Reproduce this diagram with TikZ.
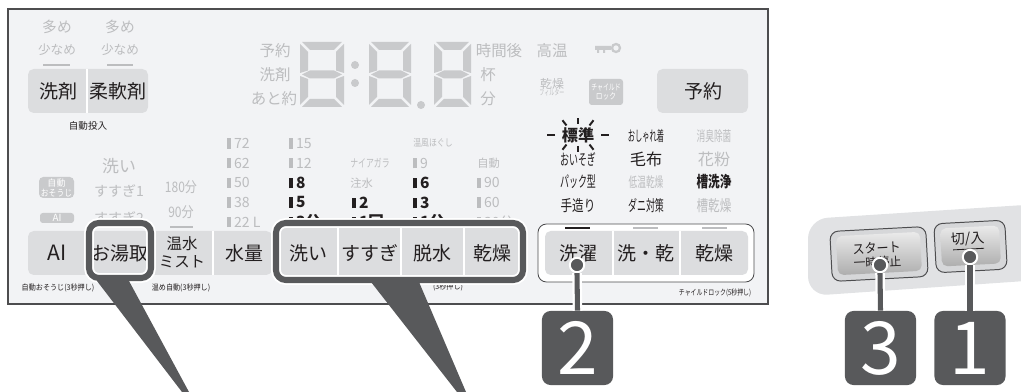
\documentclass[tikz,border=0pt]{standalone}
\usepackage{fontspec}
\setmainfont{Noto Sans CJK JP}
\usepackage{graphicx}
\usetikzlibrary{positioning}

\definecolor{panelbg}{HTML}{F2F3F5}
\definecolor{panelline}{HTML}{4D4D4F}
\definecolor{btngray}{HTML}{DCDDDF}
\definecolor{fainttxt}{HTML}{BCBDBF}
\definecolor{segray}{HTML}{C9CACC}
\definecolor{ink}{HTML}{231F20}
\definecolor{callout}{HTML}{58595B}
\definecolor{sidegray}{HTML}{E1E2E4}
\definecolor{btnouter}{HTML}{D6D7D9}

\newcommand{\fsz}[1]{\fontsize{#1}{#1}\selectfont}
\newcommand{\narrow}[2]{\scalebox{#1}[1]{#2}}
\newcommand{\lvbar}{\rule{2.6pt}{7.4pt}\hspace{2.2pt}}

\tikzset{
  faint/.style={text=fainttxt, inner sep=0pt},
  dark/.style={text=ink, inner sep=0pt},
  btn/.style={text=ink, inner sep=0pt, font=\fsz{13.5}},
  note/.style={text=ink, inner sep=0pt, font=\fsz{5.6}},
  halo/.style={draw=white, line width=7pt, rounded corners=7pt},
  hilite/.style={draw=callout, line width=4.3pt, rounded corners=7pt},
  stem/.style={draw=callout, line width=3.6pt},
  stemhalo/.style={draw=white, line width=6.8pt},
  dot/.style={circle, fill=callout, draw=white, line width=1.4pt, minimum size=0.36cm, inner sep=0pt},
  numbox/.style={fill=callout, rounded corners=6pt, minimum width=1.775cm, minimum height=1.85cm,
    inner sep=0pt, text=white, font=\fsz{52}},
  pics/sevenseg/.style={code={
    \def\W{#1}
    \fill[segray] (2,0) -- ({\W-2},0) -- ({\W-10},8) -- (10,8) -- cycle;
    \fill[segray] (0,2) -- (8,10) -- (8,28.5) -- (0,31) -- cycle;
    \fill[segray] (\W,2) -- (\W,31) -- ({\W-8},28.5) -- ({\W-8},10) -- cycle;
    \fill[segray] (2,32.5) -- (10,28.5) -- ({\W-10},28.5) -- ({\W-2},32.5) -- ({\W-10},36.5) -- (10,36.5) -- cycle;
    \fill[segray] (0,34) -- (8,37) -- (8,55) -- (0,63) -- cycle;
    \fill[segray] (\W,34) -- (\W,63) -- ({\W-8},55) -- ({\W-8},37) -- cycle;
    \fill[segray] (2,65) -- (10,57) -- ({\W-10},57) -- ({\W-2},65) -- cycle;
  }}
}

\begin{document}
\begin{tikzpicture}[x=0.025cm, y=-0.025cm]
  \useasboundingbox (0,0) rectangle (1021,392);

  % panel
  \draw[fill=panelbg, draw=panelline, line width=1.2pt] (8,9) rectangle (768,304);

  % detergent amount
  \node[faint, font=\fsz{10.5}] (more1) at (57,27) {多め};
  \node[faint, font=\fsz{10.5}] (more2) at (120,27) {多め};
  \node[faint, font=\fsz{9}] (less1) at (57,50) {少なめ};
  \node[faint, font=\fsz{9}] (less2) at (120,50) {少なめ};
  \draw[fainttxt, line width=1.8pt] (43,65) -- (70,65) (107,65) -- (133,65);
  \fill[btngray, rounded corners=4pt] (28,69) rectangle (148,113);
  \draw[white, line width=1pt] (87,69) -- (87,113);
  \node[btn] (senzai) at (58,91) {洗剤};
  \node[btn] (junanzai) at (118,91) {柔軟剤};
  \node[note, font=\fsz{6.8}] (jidoutounyu) at (88,126) {自動投入};

  % display
  \node[faint, font=\fsz{11}] (dispyoyaku) at (275,51) {予約};
  \node[faint, font=\fsz{11}] (dispsenzai) at (275,75) {洗剤};
  \node[faint, font=\fsz{11}] (atoyaku) at (274,99) {あと約};
  \pic at (300,42) {sevenseg=44};
  \pic at (369,42) {sevenseg=42};
  \pic at (434,42) {sevenseg=37};
  \fill[segray] (355,65) circle (4) (355,83) circle (4) (421,105) circle (4);
  \node[faint, font=\fsz{11}] (jikango) at (499,51) {時間後};
  \node[faint, font=\fsz{11}] (hai) at (488,75) {杯};
  \node[faint, font=\fsz{11}] (fun) at (488,99) {分};
  \node[faint, font=\fsz{11}] (kouon) at (552,51) {高温};
  % key
  \fill[segray] (595,46) rectangle (611,50) (597,50) rectangle (599,53) (603,50) rectangle (605,53);
  \draw[segray, line width=1.6pt] (616,48) circle (4);
  \node[faint, font=\fsz{8.5}] (kansoufilter) at (552,84) {乾燥};
  \node[faint, font=\fsz{5.5}] (filter) at (552,93) {\narrow{0.65}{フィルター}};
  \fill[segray, rounded corners=2pt] (589,79) rectangle (623,105);
  \node[text=white, font=\fsz{6}, align=center, inner sep=0pt] (childlock) at (606,92)
    {\narrow{0.7}{チャイルド}\\[0.5pt]\narrow{0.8}{ロック}};
  \fill[btngray, rounded corners=4pt] (657,69) rectangle (748,113);
  \node[btn] (yoyaku) at (703,91) {予約};

  % courses
  \node[dark, font=\fsz{11.5}\bfseries] (hyoujun) at (578,135) {標準};
  \foreach \a in {0,60,90,120,180,240,270,300}
    \draw[ink, line width=1.4pt, shift={(578,135)}] (\a:23 and 11) -- (\a:31 and 17);
  \node[dark, font=\fsz{11}] (oisogi) at (578,159) {\narrow{0.58}{おいそぎ}};
  \node[dark, font=\fsz{11}] (pack) at (578,182) {\narrow{0.58}{パック型}};
  \node[dark, font=\fsz{11}] (tezukuri) at (578,206) {\narrow{0.75}{手造り}};
  \node[dark, font=\fsz{10.3}] (oshare) at (646,136) {\narrow{0.5}{おしゃれ着}};
  \node[dark, font=\fsz{11.5}] (moufu) at (646,159) {毛布};
  \node[faint, font=\fsz{10}] (teion) at (646,182) {\narrow{0.62}{低温乾燥}};
  \node[dark, font=\fsz{11}] (dani) at (646,206) {\narrow{0.58}{ダニ対策}};
  \node[faint, font=\fsz{10}] (shoushu) at (714,136) {\narrow{0.62}{消臭除菌}};
  \node[faint, font=\fsz{11.5}] (kafun) at (714,159) {花粉};
  \node[dark, font=\fsz{11}\bfseries] (sousenjou) at (714,182) {\narrow{0.75}{槽洗浄}};
  \node[faint, font=\fsz{11}] (soukansou) at (714,206) {\narrow{0.75}{槽乾燥}};

  % wash / dry group
  \draw[fill=white, draw=panelline, line width=0.6pt, rounded corners=6pt] (538,224) rectangle (754,282);
  \draw[ink, line width=2pt] (565,228) -- (590,228);
  \draw[fainttxt, line width=2pt] (633,228) -- (658,228) (702,228) -- (727,228);
  \fill[btngray, rounded corners=4pt] (545,231) rectangle (748,275);
  \draw[white, line width=1pt] (613,231) -- (613,275) (680,231) -- (680,275);
  \node[btn] (sentaku) at (578,253) {洗濯};
  \node[btn] (senkan) at (646,253) {洗・乾};
  \node[btn] (kansou) at (714,253) {乾燥};
  \node[note] (childnote) at (715,293) {\narrow{0.75}{チャイルドロック(5秒押し)}};

  % left column
  \fill[segray, rounded corners=3pt] (39,177) rectangle (74,198);
  \node[text=white, font=\fsz{6.5}, align=center, inner sep=0pt] (osouji) at (56.5,187.5)
    {自動\\[0.5pt]\narrow{0.85}{おそうじ}};
  \fill[segray, rounded corners=2pt] (40,213) rectangle (74,223);
  \node[text=white, font=\fsz{7}, inner sep=0pt] (aibadge) at (57,218) {AI};
  \node[faint, font=\fsz{12}] (arai) at (119,166) {洗い};
  \node[faint, font=\fsz{10}] (susugi1) at (119,191) {すすぎ1};
  \node[faint, font=\fsz{10}] (susugi2) at (119,218) {すすぎ2};
  \node[faint, font=\fsz{10.3}] (m180) at (181,187) {\narrow{0.83}{180分}};
  \node[faint, font=\fsz{10.3}] (m90) at (181,212) {\narrow{0.83}{90分}};
  \draw[fainttxt, line width=2pt] (170,227) -- (193,227);

  % levels
  \foreach \v [count=\i] in {72,62,50,38,22 L}
    \node[faint, font=\fsz{10}, anchor=west] (lv1\i) at (227,{124+19.6*\i}) {\lvbar\v};
  \node[faint, font=\fsz{10}, anchor=west] (lv21) at (289,143.6) {\lvbar 15};
  \node[faint, font=\fsz{10}, anchor=west] (lv22) at (289,163.2) {\lvbar 12};
  \foreach \v [count=\i from 3] in {8,5,3分}
    \node[dark, font=\fsz{11}\bfseries, anchor=west] (lv2\i) at (289,{124+19.6*\i}) {\lvbar\v};
  \node[faint, font=\fsz{8}, anchor=west] (niagara) at (350,163) {\narrow{0.7}{ナイアガラ}};
  \node[faint, font=\fsz{8}, anchor=west] (chuusui) at (350,183) {注水};
  \node[dark, font=\fsz{11}\bfseries, anchor=west] (lv34) at (352,202.4) {\lvbar 2};
  \node[dark, font=\fsz{11}\bfseries, anchor=west] (lv35) at (352,222) {\lvbar 1回};
  \node[faint, font=\fsz{7}, anchor=west] (onpuu) at (413,143) {\narrow{0.8}{温風ほぐし}};
  \node[faint, font=\fsz{10}, anchor=west] (lv42) at (413,163.2) {\lvbar 9};
  \foreach \v [count=\i from 3] in {6,3,1分}
    \node[dark, font=\fsz{11}\bfseries, anchor=west] (lv4\i) at (413,{124+19.6*\i}) {\lvbar\v};
  \node[faint, font=\fsz{8}, anchor=west] (jidou) at (477,163) {自動};
  \foreach \v [count=\i from 3] in {90,60,30分}
    \node[faint, font=\fsz{10}, anchor=west] (lv5\i) at (477,{124+19.6*\i}) {\lvbar\v};

  % bottom row
  \fill[btngray, rounded corners=4pt] (28,231) rectangle (272,275);
  \draw[white, line width=1pt] (88,231) -- (88,275) (151,231) -- (151,275) (213,231) -- (213,275);
  \node[btn, font=\fsz{15}] (ai) at (57,253) {AI};
  \node[btn] (oyutori) at (120,253) {お湯取};
  \node[btn, font=\fontsize{11}{13}\selectfont, align=center] (onsui) at (182,252) {温水\\ミスト};
  \node[btn] (suiryou) at (244,253) {水量};
  \fill[btngray] (278,226) rectangle (521,277);
  \draw[white, line width=1pt] (338,226) -- (338,277) (401,226) -- (401,277) (464,226) -- (464,277);
  \node[btn] (araibtn) at (308,253) {洗い};
  \node[btn] (susugibtn) at (370,253) {すすぎ};
  \node[btn] (dassui) at (432,253) {脱水};
  \node[btn] (kansoubtn) at (492,253) {乾燥};
  \node[note] (osoujinote) at (58,288) {\narrow{0.9}{自動おそうじ(3秒押し)}};
  \node[note] (atatame) at (181,288) {\narrow{0.9}{温め自動(3秒押し)}};
  \node[note] (filternote) at (448,287) {\narrow{0.9}{(3秒押し)}};

  % callouts
  \draw[halo] (89,223) rectangle (151,278);
  \draw[halo] (276,223) rectangle (523,280);
  \fill[callout] (97,281) -- (129,281) -- (189,392) -- (182,392) -- cycle;
  \fill[callout] (371,282) -- (419,282) -- (466,392) -- (457,392) -- cycle;
  \draw[hilite] (89,223) rectangle (151,278);
  \draw[hilite] (276,223) rectangle (523,280);

  % step 2
  \node[numbox] (num2) at (577.5,348) {2};
  \node[dot] (dot2) at (577,265) {};
  \draw[stemhalo] (dot2.south) -- (num2.north);
  \draw[stem] (dot2.south) -- (num2.north);

  % power and start buttons
  \fill[sidegray, rounded corners=14pt] (1040,204) -- (808,219) -- (808,296) -- (1040,280) -- cycle;
  \begin{scope}[rotate around={3:(879,254)}]
    \draw[fill=btnouter, draw=panelline, line width=0.7pt, rounded corners=6pt] (831,229) rectangle (927,279);
    \shade[top color=black!8, bottom color=black!32, rounded corners=4pt] (837,234) rectangle (921,273);
    \node[text=ink, font=\fsz{9.5}, inner sep=0pt, transform shape] (start) at (877,248) {\narrow{0.9}{スタート}};
    \node[text=ink, font=\fsz{8.5}, inner sep=0pt, transform shape] (pause) at (877,262) {一時停止};
  \end{scope}
  \begin{scope}[rotate around={3:(970,246)}]
    \draw[fill=btnouter, draw=panelline, line width=0.7pt, rounded corners=6pt] (935,222) rectangle (1006,271);
    \shade[top color=black!8, bottom color=black!32, rounded corners=4pt] (941,227) rectangle (1000,265);
    \node[text=ink, font=\fsz{10}, inner sep=0pt, transform shape] (power) at (968,239) {切/入};
    \draw[ink, line width=0.6pt] (953,249) -- (984,249);
  \end{scope}

  % steps 3 and 1
  \node[numbox] (num3) at (880.5,348) {3};
  \node[numbox] (num1) at (970,348) {1};
  \node[dot] (dot3) at (880,265) {};
  \node[dot] (dot1) at (970,257) {};
  \draw[stemhalo] (dot3.south) -- (num3.north);
  \draw[stem] (dot3.south) -- (num3.north);
  \draw[stemhalo] (dot1.south) -- (num1.north);
  \draw[stem] (dot1.south) -- (num1.north);
\end{tikzpicture}
\end{document}
